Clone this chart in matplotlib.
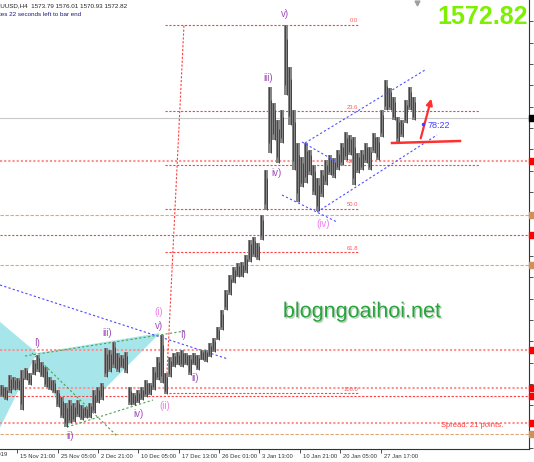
import numpy as np
import matplotlib
matplotlib.use("Agg")
import matplotlib.pyplot as plt
import matplotlib.patheffects as pe
from matplotlib.patches import Polygon, Rectangle
from matplotlib.transforms import ScaledTranslation

plt.rcParams['font.family'] = ['Liberation Sans', 'DejaVu Sans']

# XAUUSD H4 - price range of each group of bars
bar_high = [1466.0, 1465.2, 1470.0, 1469.2, 1468.8, 1472.0, 1472.8, 1470.8, 1476.0, 1478.0,
            1475.2, 1473.2, 1469.2, 1468.0, 1464.0, 1461.2, 1458.8, 1460.0, 1458.8, 1460.0,
            1458.0, 1457.2, 1458.8, 1464.0, 1465.2, 1466.8, 1480.8, 1480.0, 1483.2, 1478.8,
            1478.0, 1479.2, 1465.2, 1462.8, 1464.0, 1465.2, 1468.0, 1466.8, 1473.2, 1477.2,
            1486.0, 1470.8, 1477.2, 1478.8, 1479.2, 1480.0, 1478.8, 1478.0, 1478.8, 1478.0,
            1480.0, 1480.0, 1482.8, 1484.8, 1489.2, 1496.0, 1504.0, 1510.0, 1513.2, 1514.8,
            1515.2, 1518.0, 1524.0, 1525.2, 1522.8, 1534.0, 1552.0, 1585.2, 1578.8, 1572.0,
            1576.0, 1610.0, 1593.2, 1576.0, 1562.8, 1557.2, 1562.8, 1560.0, 1554.0, 1548.8,
            1552.0, 1556.0, 1558.0, 1556.8, 1560.0, 1562.8, 1567.2, 1566.0, 1565.2, 1558.8,
            1560.0, 1562.8, 1561.2, 1566.8, 1565.2, 1576.0, 1588.0, 1584.8, 1581.2, 1573.2,
            1572.0, 1580.0, 1585.2, 1581.2]
bar_low = [1461.2, 1460.0, 1462.8, 1464.0, 1464.0, 1456.0, 1468.0, 1466.0, 1470.0, 1471.2,
           1469.2, 1465.2, 1464.0, 1462.8, 1457.2, 1452.8, 1449.2, 1450.8, 1451.2, 1453.2,
           1452.0, 1452.8, 1452.8, 1454.8, 1458.8, 1460.0, 1469.2, 1471.2, 1472.8, 1471.2,
           1472.8, 1470.8, 1458.0, 1458.0, 1458.8, 1460.0, 1461.2, 1462.0, 1464.0, 1468.0,
           1466.8, 1462.4, 1469.2, 1473.2, 1474.0, 1473.2, 1474.0, 1470.0, 1474.0, 1472.0,
           1476.0, 1475.2, 1477.2, 1479.2, 1484.0, 1488.0, 1496.0, 1502.0, 1506.8, 1509.2,
           1509.2, 1510.8, 1515.2, 1517.2, 1516.0, 1524.0, 1536.0, 1558.8, 1564.0, 1554.8,
           1562.8, 1582.0, 1570.0, 1552.0, 1539.2, 1545.2, 1546.8, 1550.0, 1542.0, 1535.6,
           1541.2, 1546.0, 1550.0, 1548.8, 1552.0, 1554.0, 1556.0, 1558.0, 1546.0, 1550.8,
           1552.0, 1554.8, 1552.0, 1558.8, 1556.0, 1565.2, 1576.0, 1576.0, 1572.0, 1563.2,
           1565.2, 1570.8, 1576.0, 1572.0]
last_price = 1572.82

date_pos = [3.83, 13.92, 24.08, 34.08, 44.25, 54.25, 64.33, 74.5, 84.58, 94.67]
date_labels = ["15 Nov 21:00", "25 Nov 05:00", "2 Dec 21:00", "10 Dec 05:00", "17 Dec 13:00",
               "26 Dec 01:00", "3 Jan 13:00", "10 Jan 21:00", "20 Jan 05:00", "27 Jan 17:00"]

# horizontal support / resistance lines
level_prices = [1555.7, 1534.0, 1526.1, 1514.0, 1480.2, 1464.8, 1461.6, 1451.0, 1446.3]
level_kinds = ["pink", "tan", "red", "tan", "pink", "pink", "red", "pink", "tan"]

# fibonacci retracement
fib_ratios = [0.0, 23.6, 38.2, 50.0, 61.8, 100.0]
fib_top = (45.5, 1610.2)
fib_bottom = (41.0, 1462.8)

# elliott wave labels (bar, price, text, kind)
wave_labels = [(70.75, 1614.4, "v)", "minor"), (66.5, 1588.8, "iii)", "minor"),
               (68.75, 1550.8, "iv)", "minor"), (80.25, 1530.4, "(iv)", "major"),
               (39.25, 1495.3, "(i)", "major"), (39.25, 1489.6, "v)", "minor"),
               (45.25, 1486.0, "I)", "minor"), (8.75, 1482.8, "I)", "minor"),
               (26.25, 1486.8, "iii)", "minor"), (48.25, 1468.8, "ii)", "minor"),
               (40.75, 1457.6, "(ii)", "major"), (34.0, 1454.4, "iv)", "minor"),
               (17.0, 1445.6, "ii)", "minor")]

# drawn objects, anchors as (bar, price)
blue_line = [(-0.5, 1506.0), (56.5, 1476.4)]
green_lines = [[(5.75, 1477.6), (45.75, 1487.6)],
               [(16.25, 1449.2), (37.75, 1460.0)],
               [(7.5, 1478.8), (28.75, 1445.6)]]
cyan_tri1 = [(-3.0, 1494.6), (8.75, 1478.8), (-3.0, 1440.8)]
cyan_tri2 = [(8.75, 1478.8), (39.5, 1486.8), (16.25, 1449.2)]
channel_lines = [[(75.75, 1562.8), (105.75, 1592.0)],
                 [(78.75, 1535.2), (108.75, 1566.0)],
                 [(75.0, 1563.2), (83.75, 1555.2)],
                 [(70.0, 1542.0), (83.75, 1531.2)]]
red_support = [(97.5, 1562.8), (114.5, 1563.6)]
red_arrow = [(104.5, 1563.6), (107.5, 1581.6)]

fig = plt.figure(figsize=(5.34, 4.62), dpi=100)
ax = fig.add_axes([0, 13 / 462, 529 / 534, 449 / 462])
ax.set_xlim(-0.5, 131.75)
ax.set_ylim(1440.4, 1620)

cyan = "#a6e6ea"
ax.add_patch(Polygon(cyan_tri1, closed=True, color=cyan, lw=0, zorder=1))
ax.add_patch(Polygon(cyan_tri2, closed=True, color=cyan, lw=0, zorder=1))

styles = {"pink": dict(color="#ff9090", lw=1.5, ls=(0, (1, 1))),
          "red": dict(color="#ff4040", lw=0.8, ls=(0, (2, 1.5))),
          "tan": dict(color="#dca878", lw=0.8, ls=(0, (3, 1.5)))}
box_colors = {"pink": "#ff0000", "red": "#ff0000", "tan": "#d0905a"}
for p, kind in zip(level_prices, level_kinds):
    ax.axhline(p, zorder=2, **styles[kind])
    ax.add_patch(Rectangle((1.0, p - 1.2), 6 / 529, 2.4, transform=ax.get_yaxis_transform(),
                           color=box_colors[kind], clip_on=False, zorder=6))
ax.axhline(last_price, color="#c8c8c8", lw=0.8, zorder=2)
ax.add_patch(Rectangle((1.0, last_price - 1.2), 6 / 529, 2.4, transform=ax.get_yaxis_transform(),
                       color="black", clip_on=False, zorder=6))

# fibonacci
span = fib_top[1] - fib_bottom[1]
for r in fib_ratios:
    lvl = fib_top[1] - r / 100 * span
    x_end = 119.5 if r in (23.6, 38.2) else 89
    ax.plot([40.75, x_end], [lvl, lvl], color="#ff4040", lw=0.8, ls=(0, (2, 1.5)), zorder=2)
    ax.text(89, lvl + 0.5, f"{r:.1f}", color="#ff5a5a", fontsize=4.2, ha="right", va="bottom", zorder=3)
ax.plot([fib_bottom[0], fib_top[0]], [fib_bottom[1], fib_top[1]], color="#ff4040", lw=0.8,
        ls=(0, (2, 1.5)), zorder=2)

# candles
x = np.arange(len(bar_high))
hi = np.array(bar_high)
lo = np.array(bar_low)
ax.bar(x, hi - lo, bottom=lo, width=0.85, color="#858585", lw=0, zorder=4)
ax.vlines(x - 0.22, lo + 0.15 * (hi - lo), hi, color="#3a3a3a", lw=0.6, zorder=4)
ax.vlines(x + 0.22, lo, hi - 0.2 * (hi - lo), color="#3a3a3a", lw=0.6, zorder=4)

# trend lines
ax.plot(*zip(*blue_line), color="#4a4aff", lw=0.8, ls=(0, (2, 2)), zorder=3)
for seg in green_lines:
    ax.plot(*zip(*seg), color="#4f9f4f", lw=0.8, ls=(0, (2, 2)), zorder=3)
for seg in channel_lines:
    ax.plot(*zip(*seg), color="#5050ff", lw=0.8, ls=(0, (2, 2)), zorder=5)
ax.plot(*zip(*red_support), color="#ff3030", lw=1.8, zorder=5)
ax.annotate("", xy=red_arrow[1], xytext=red_arrow[0],
            arrowprops=dict(arrowstyle="-|>", color="#ff3030", lw=1.6, mutation_scale=9), zorder=5)
ax.plot(105.25, 1570.4, marker="o", ms=1.5, color="#4040ff", zorder=5)
ax.text(106.5, 1570.0, "78:22", color="#4040ff", fontsize=6.5, va="center", zorder=5)

wave_colors = {"minor": "#a050b8", "major": "#f07cf0"}
for bx, by, t, kind in wave_labels:
    ax.text(bx, by, t, color=wave_colors[kind], fontsize=7, ha="center", va="center", zorder=6)

ax.text(89.9, 1495.3, "blogngoaihoi.net", color="#25a53a", fontsize=15.5, ha="center",
        va="center", zorder=6,
        path_effects=[pe.SimplePatchShadow(offset=(1, -1), alpha=0.25), pe.Normal()])
ax.text(109.75, 1450.0, "Spread: 21 points.", color="#ff4040", fontsize=5.5, va="center", zorder=6)
ax.text(131.4, 1613.2, f"{last_price:.2f}", color="#7cf000", fontsize=18, fontweight="bold",
        ha="right", va="center", zorder=6)
ax.plot(103.75, 1618.8, marker="v", ms=3.5, color="#a0a0a0", clip_on=False, zorder=6)

# axes styling like the terminal
for s in ["top", "left"]:
    ax.spines[s].set_visible(False)
ax.spines["right"].set_color("#333333")
ax.spines["bottom"].set_color("#333333")
ax.spines["right"].set_linewidth(0.8)
ax.spines["bottom"].set_linewidth(0.8)
ax.yaxis.tick_right()
yt = np.arange(1611.47, 1440, -8.53)
ax.set_yticks(yt)
ax.set_yticklabels([f"{v:.2f}" for v in yt], fontsize=4.5)
ax.tick_params(axis="y", length=3, width=0.6, pad=1, colors="#333333")
ax.set_xticks(date_pos)
ax.set_xticklabels(date_labels, fontsize=4.2, ha="left")
ax.tick_params(axis="x", length=3, width=0.6, pad=0.5, colors="#333333")
offset = ScaledTranslation(3 / 100, 0, fig.dpi_scale_trans)
for lab in ax.get_xticklabels():
    lab.set_transform(lab.get_transform() + offset)
fig.text(7.5 / 534, 1 - 455 / 462, "11 Nov 2019", fontsize=4.2, ha="right", va="center", color="#333333")

fig.text(-8 / 534, 1 - 6 / 462, "XAUUSD,H4  1573.79 1576.01 1570.93 1572.82", fontsize=4.5,
         va="center", color="#222222")
fig.text(-1 / 534, 1 - 14 / 462, "tes 22 seconds left to bar end", fontsize=4.5, va="center",
         color="#1a1a80")

fig.savefig("out.png", dpi=100)
